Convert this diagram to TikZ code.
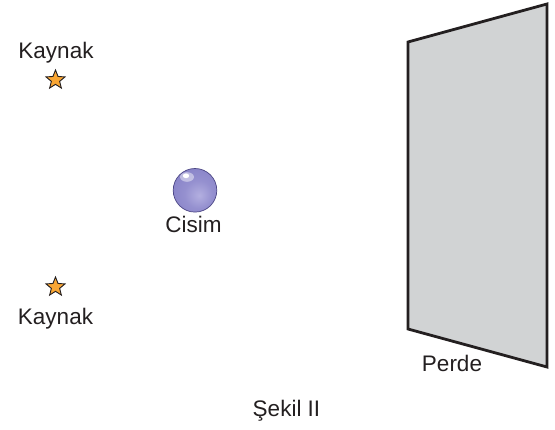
\documentclass[tikz,border=0pt]{standalone}
\usepackage{fontspec}
\setmainfont{Liberation Sans}
\usetikzlibrary{shapes.geometric}
\definecolor{ink}{HTML}{231F20}
\definecolor{screengray}{HTML}{D1D3D4}
\definecolor{starorange}{HTML}{F9A634}
\definecolor{ballmid}{HTML}{8883C8}
\definecolor{ballrim}{HTML}{5F59A6}
\definecolor{balllight}{HTML}{B3AFE0}
% shading space: the circle being filled spans a radius of 50bp
\pgfdeclareradialshading{ballglow}{\pgfpoint{5bp}{-6bp}}{%
  color(0bp)=(balllight);
  color(16bp)=(ballmid!70!balllight);
  color(32bp)=(ballmid);
  color(47bp)=(ballrim);
  color(70bp)=(ballrim)}
\tikzset{
  label text/.style={font=\fontsize{22.5}{26}\selectfont, text=ink, inner sep=0pt, anchor=base},
  source star/.style={star, star points=5, star point ratio=2.3, minimum size=20pt,
    inner sep=0pt, fill=starorange, draw=ink, line width=0.9pt},
  screen edge/.style={draw=ink, fill=screengray, line width=2.8pt, line join=miter}
}
\begin{document}
\begin{tikzpicture}[x=1pt, y=-1pt]
  \useasboundingbox (0,0) rectangle (555,430);

  % light sources
  \node[source star] (s1) at (55.5,80) {};
  \node[source star] (s2) at (55.5,287) {};
  \node[label text] (k1) at (56,58.3) {Kaynak};
  \node[label text] (k2) at (55.5,324.7) {Kaynak};

  % object: shaded sphere
  \coordinate (ball) at (195,190.3);
  \shade[shading=ballglow] (ball) circle[radius=21.8];
  \draw[ballrim!80!black, line width=0.7pt] (ball) circle[radius=21.8];
  \fill[white, opacity=0.45] (187,177) ellipse[x radius=7, y radius=4.8];
  \fill[white] (186,175.8) ellipse[x radius=3.2, y radius=2.4];
  \node[label text] (obj) at (193.5,233) {Cisim};

  % screen
  \draw[screen edge] (408,42) -- (547,4) -- (547,367) -- (408,329) -- cycle;
  \node[label text] (perde) at (452,371.7) {Perde};

  % caption
  \node[label text] (cap) at (286.5,416.7) {Şekil II};
\end{tikzpicture}
\end{document}
